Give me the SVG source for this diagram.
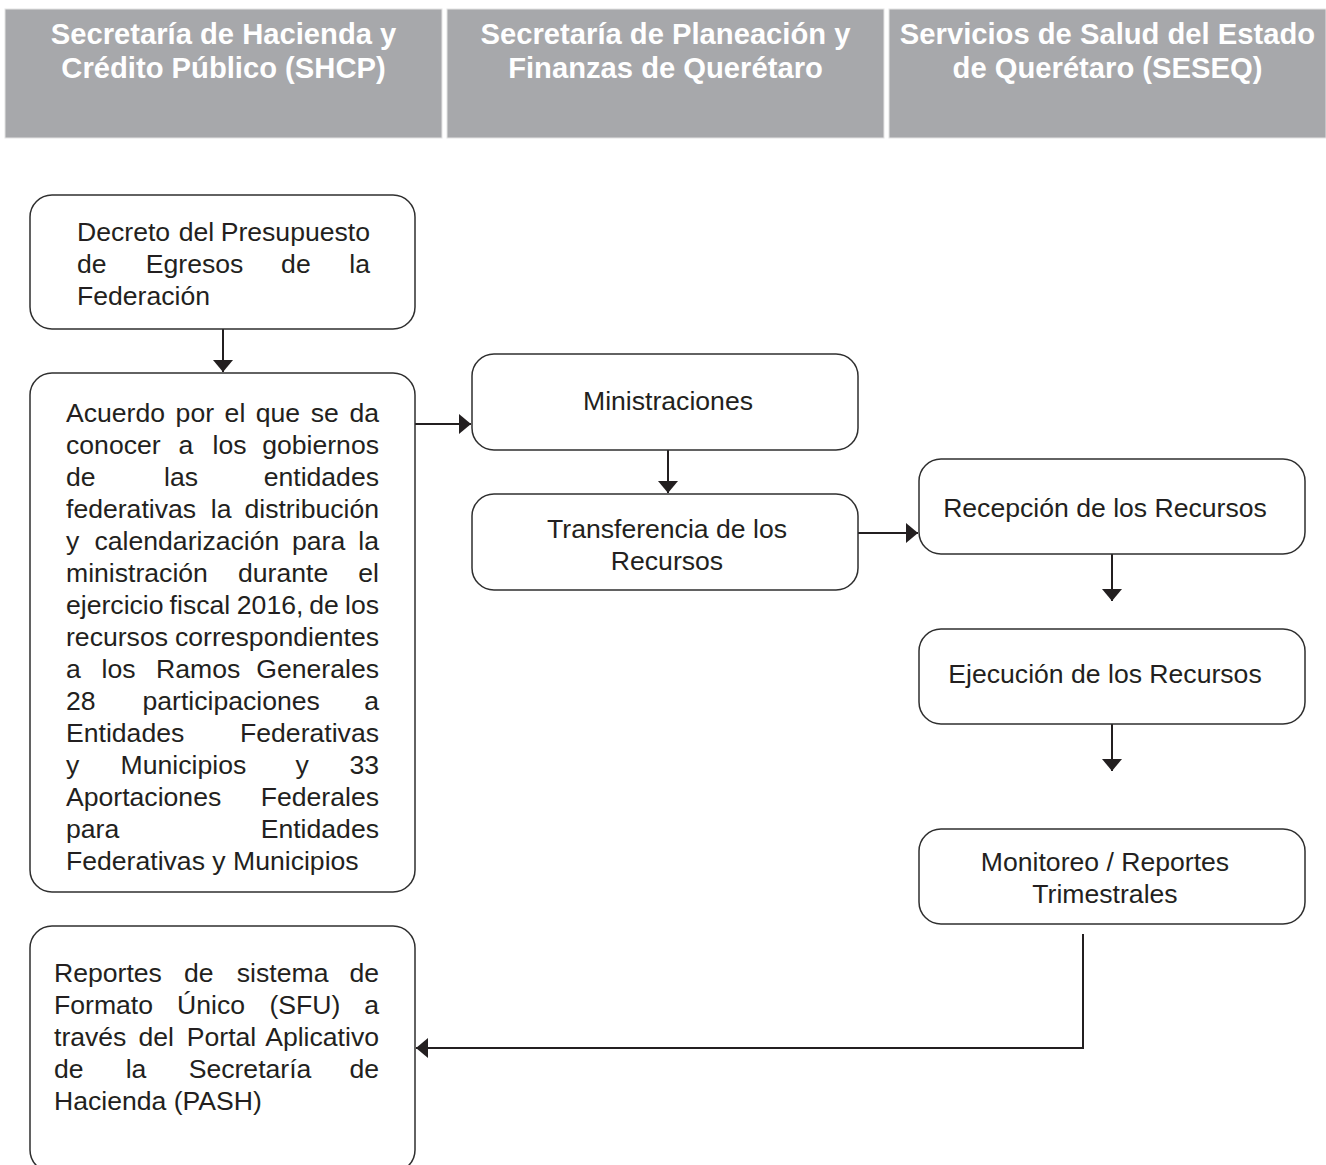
<svg xmlns="http://www.w3.org/2000/svg" width="1326" height="1165" viewBox="0 0 1326 1165">
<defs>
<style>
.hdr{fill:#a7a8ab;stroke:#e4e4e4;stroke-width:1}
.ht{font-family:"Liberation Sans",Arial,sans-serif;font-weight:bold;font-size:29.2px;fill:#ffffff;text-anchor:middle}
.box{fill:#ffffff;stroke:#2f2f2f;stroke-width:1.5}
.t{font-family:"Liberation Sans",Arial,sans-serif;font-size:26.6px;fill:#231f20}
.c{text-anchor:middle}
.e{text-anchor:end}
.conn{fill:none;stroke:#231f20;stroke-width:2}
</style>
<marker id="ah" markerUnits="userSpaceOnUse" markerWidth="13" markerHeight="20" refX="12" refY="10" orient="auto">
<path d="M0,0 L12,10 L0,20 Z" fill="#231f20"/>
</marker>
</defs>
<rect width="1326" height="1165" fill="#ffffff"/>
<g id="headers">
<rect class="hdr" x="5" y="9" width="437" height="129"/>
<rect class="hdr" x="447" y="9" width="437" height="129"/>
<rect class="hdr" x="889" y="9" width="437" height="129"/>
<text class="ht" x="223.5" y="44">Secretaría de Hacienda y</text>
<text class="ht" x="223.5" y="78">Crédito Público (SHCP)</text>
<text class="ht" x="665.5" y="44">Secretaría de Planeación y</text>
<text class="ht" x="665.5" y="78">Finanzas de Querétaro</text>
<text class="ht" x="1107.5" y="44">Servicios de Salud del Estado</text>
<text class="ht" x="1107.5" y="78">de Querétaro (SESEQ)</text>
</g>
<g id="connectors">
<path class="conn" d="M223,329 V372" marker-end="url(#ah)"/>
<path class="conn" d="M415,424 H471" marker-end="url(#ah)"/>
<path class="conn" d="M668,450 V493" marker-end="url(#ah)"/>
<path class="conn" d="M858,533 H918" marker-end="url(#ah)"/>
<path class="conn" d="M1112,554 V601" marker-end="url(#ah)"/>
<path class="conn" d="M1112,724 V771" marker-end="url(#ah)"/>
<path class="conn" d="M1083,934 V1048 H416" marker-end="url(#ah)"/>
</g>
<g id="decreto">
<rect class="box" x="30" y="195" width="385" height="134" rx="22"/>
<text class="t" y="241"><tspan x="77">Decreto</tspan><tspan x="178.7">del</tspan><tspan x="370" class="e">Presupuesto</tspan></text>
<text class="t" y="273"><tspan x="77">de</tspan><tspan x="145.8">Egresos</tspan><tspan x="281.1">de</tspan><tspan x="370" class="e">la</tspan></text>
<text class="t" x="77" y="305">Federación</text>
</g>
<g id="acuerdo">
<rect class="box" x="30" y="373" width="385" height="519" rx="22"/>
<text class="t" y="422"><tspan x="66">Acuerdo</tspan><tspan x="175.6">por</tspan><tspan x="224.6">el</tspan><tspan x="255.7">que</tspan><tspan x="310.7">se</tspan><tspan x="379" class="e">da</tspan></text>
<text class="t" y="454"><tspan x="66">conocer</tspan><tspan x="178.5">a</tspan><tspan x="212.5">los</tspan><tspan x="379" class="e">gobiernos</tspan></text>
<text class="t" y="486"><tspan x="66">de</tspan><tspan x="164">las</tspan><tspan x="379" class="e">entidades</tspan></text>
<text class="t" y="518"><tspan x="66">federativas</tspan><tspan x="210.8">la</tspan><tspan x="379" class="e">distribución</tspan></text>
<text class="t" y="550"><tspan x="66">y</tspan><tspan x="94.5">calendarización</tspan><tspan x="292">para</tspan><tspan x="379" class="e">la</tspan></text>
<text class="t" y="582"><tspan x="66">ministración</tspan><tspan x="238">durante</tspan><tspan x="379" class="e">el</tspan></text>
<text class="t" y="614"><tspan x="66">ejercicio</tspan><tspan x="169.6">fiscal</tspan><tspan x="236.8">2016,</tspan><tspan x="309.3">de</tspan><tspan x="379" class="e">los</tspan></text>
<text class="t" y="646"><tspan x="66">recursos</tspan><tspan x="379" class="e">correspondientes</tspan></text>
<text class="t" y="678"><tspan x="66">a</tspan><tspan x="101.5">los</tspan><tspan x="156">Ramos</tspan><tspan x="379" class="e">Generales</tspan></text>
<text class="t" y="710"><tspan x="66">28</tspan><tspan x="142.5">participaciones</tspan><tspan x="379" class="e">a</tspan></text>
<text class="t" y="742"><tspan x="66">Entidades</tspan><tspan x="379" class="e">Federativas</tspan></text>
<text class="t" y="774"><tspan x="66">y</tspan><tspan x="120.6">Municipios</tspan><tspan x="295.5">y</tspan><tspan x="379" class="e">33</tspan></text>
<text class="t" y="806"><tspan x="66">Aportaciones</tspan><tspan x="379" class="e">Federales</tspan></text>
<text class="t" y="838"><tspan x="66">para</tspan><tspan x="379" class="e">Entidades</tspan></text>
<text class="t" x="66" y="870">Federativas y Municipios</text>
</g>
<g id="reportes">
<rect class="box" x="30" y="926" width="385" height="246" rx="22"/>
<text class="t" y="982"><tspan x="54">Reportes</tspan><tspan x="184">de</tspan><tspan x="236.8">sistema</tspan><tspan x="379" class="e">de</tspan></text>
<text class="t" y="1014"><tspan x="54">Formato</tspan><tspan x="177">Único</tspan><tspan x="269.5">(SFU)</tspan><tspan x="379" class="e">a</tspan></text>
<text class="t" y="1046"><tspan x="54">través</tspan><tspan x="138.5">del</tspan><tspan x="186.8">Portal</tspan><tspan x="379" class="e">Aplicativo</tspan></text>
<text class="t" y="1078"><tspan x="54">de</tspan><tspan x="125.7">la</tspan><tspan x="188.7">Secretaría</tspan><tspan x="379" class="e">de</tspan></text>
<text class="t" x="54" y="1110">Hacienda (PASH)</text>
</g>
<g id="ministraciones">
<rect class="box" x="472" y="354" width="386" height="96" rx="22"/>
<text class="t c" x="668" y="410">Ministraciones</text>
</g>
<g id="transferencia">
<rect class="box" x="472" y="494" width="386" height="96" rx="22"/>
<text class="t c" x="667" y="538">Transferencia de los</text>
<text class="t c" x="667" y="570">Recursos</text>
</g>
<g id="recepcion">
<rect class="box" x="919" y="459" width="386" height="95" rx="22"/>
<text class="t c" x="1105" y="517">Recepción de los Recursos</text>
</g>
<g id="ejecucion">
<rect class="box" x="919" y="629" width="386" height="95" rx="22"/>
<text class="t c" x="1105" y="683">Ejecución de los Recursos</text>
</g>
<g id="monitoreo">
<rect class="box" x="919" y="829" width="386" height="95" rx="22"/>
<text class="t c" x="1105" y="871">Monitoreo / Reportes</text>
<text class="t c" x="1105" y="903">Trimestrales</text>
</g>
</svg>
